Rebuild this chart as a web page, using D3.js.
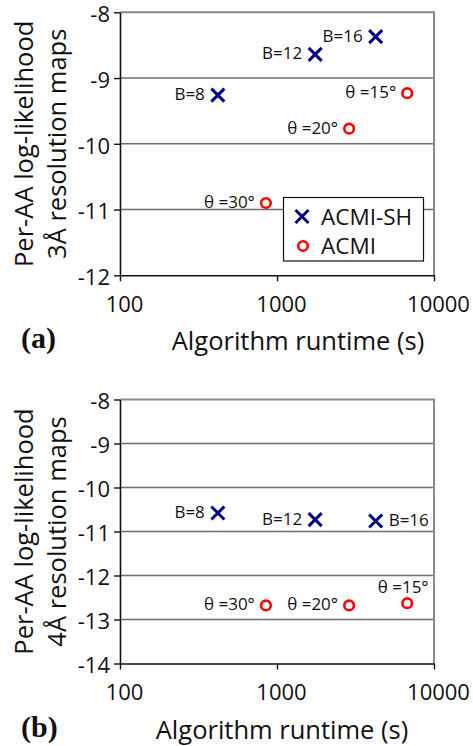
<!DOCTYPE html>
<html>
<head>
<meta charset="utf-8">
<script src="https://cdn.jsdelivr.net/npm/d3@7"></script>
<style>
  html, body { margin: 0; padding: 0; background: #fff; }
  svg { display: block; }
</style>
</head>
<body>
<svg id="chart" width="473" height="746"></svg>
<script>
// ---- data ----
const seriesNames = ["ACMI-SH", "ACMI"];
const runtimeSH = [420, 1750, 4250];
const runtimeACMI = [6750, 2880, 850];
const labelsSH = ["B=8", "B=12", "B=16"];
const labelsACMI = ["θ =15°", "θ =20°", "θ =30°"];
const ll3SH = [-9.26, -8.64, -8.37];
const ll3ACMI = [-9.23, -9.77, -10.90];
const ll4SH = [-10.58, -10.73, -10.76];
const ll4ACMI = [-12.63, -12.68, -12.68];
const xTicks = [100, 1000, 10000];
const yTicks3 = [-12, -11, -10, -9, -8];
const yTicks4 = [-14, -13, -12, -11, -10, -9, -8];
const yTitle3 = ["Per-AA log-likelihood", "3Å resolution maps"];
const yTitle4 = ["Per-AA log-likelihood", "4Å resolution maps"];
const xTitle = "Algorithm runtime (s)";
const panelLabels = ["(a)", "(b)"];

// label placement (style only)
const placeSH3 = ["left", "left", "left"];
const placeACMI3 = ["left", "left", "left"];
const placeSH4 = ["left", "left", "right"];
const placeACMI4 = ["above", "left", "left"];

const svg = d3.select("#chart");
const FONT = "'Open Sans', 'Noto Sans', sans-serif";
const NAVY = "#000080", RED = "#ff0000";

function drawPanel(cfg) {
  const x = d3.scaleLog().domain([100, 10000]).range([120, 434]);
  const y = d3.scaleLinear().domain(cfg.yDomain).range([cfg.yBottom, cfg.yTop]);
  const g = svg.append("g");

  // gridlines (interior)
  g.selectAll("line.grid").data(cfg.yTicks.slice(1, -1)).join("line")
    .attr("x1", x(100)).attr("x2", x(10000))
    .attr("y1", d => y(d)).attr("y2", d => y(d))
    .attr("stroke", "#6e6e6e").attr("stroke-width", 1.5);
  // top & right border
  g.append("line").attr("x1", x(100)).attr("x2", x(10000) + 1)
    .attr("y1", y(cfg.yDomain[1])).attr("y2", y(cfg.yDomain[1]))
    .attr("stroke", "#8a8a8a").attr("stroke-width", 2);
  g.append("line").attr("x1", x(10000)).attr("x2", x(10000))
    .attr("y1", y(cfg.yDomain[1])).attr("y2", y(cfg.yDomain[0]))
    .attr("stroke", "#8a8a8a").attr("stroke-width", 2);

  // axes
  const yAxis = d3.axisLeft(y).tickValues(cfg.yTicks).tickFormat(d => String(d))
    .tickSize(6).tickSizeOuter(0).tickPadding(4);
  const ya = g.append("g").attr("transform", `translate(${x(100)},0)`).call(yAxis);
  const xAxis = d3.axisBottom(x).tickValues(xTicks).tickFormat(d => String(d))
    .tickSize(6).tickSizeOuter(0).tickPadding(15);
  const xa = g.append("g").attr("transform", `translate(0,${y(cfg.yDomain[0])})`).call(xAxis);
  [ya, xa].forEach(a => {
    a.select(".domain").attr("stroke", "#111").attr("stroke-width", 1.6);
    a.selectAll(".tick line").attr("stroke", "#111").attr("stroke-width", 1.4);
    a.selectAll(".tick text").attr("fill", "#111")
      .style("font-family", FONT).style("font-size", "22px");
  });
  ya.selectAll(".tick text").attr("dy", "0.42em");
  xa.selectAll(".tick text").attr("dx", 4);

  // y title
  const ty = (cfg.yTop + cfg.yBottom) / 2;
  cfg.yTitle.forEach((t, i) => {
    g.append("text")
      .attr("transform", `translate(${[33, 66][i]},${ty}) rotate(-90)`)
      .attr("text-anchor", "middle")
      .style("font-family", FONT).style("font-size", "25.5px").attr("fill", "#111")
      .text(t);
  });
  // x title
  g.append("text").attr("x", cfg.xTitleX).attr("y", cfg.xTitleY)
    .attr("text-anchor", "middle")
    .style("font-family", FONT).style("font-size", "25.5px").attr("fill", "#111")
    .text(xTitle);
  // panel label
  g.append("text").attr("x", 21).attr("y", cfg.xTitleY - 2)
    .style("font-family", "'Liberation Serif', 'Times New Roman', serif")
    .style("font-weight", "bold").style("font-size", "30px").attr("fill", "#111")
    .text(cfg.panel);

  // markers
  const cross = (sel, s) => sel.attr("d", `M${-s},${-s}L${s},${s}M${-s},${s}L${s},${-s}`);
  const sh = runtimeSH.map((r, i) => ({ r, v: cfg.sh[i], label: labelsSH[i], place: cfg.placeSH[i] }));
  const ac = runtimeACMI.map((r, i) => ({ r, v: cfg.ac[i], label: labelsACMI[i], place: cfg.placeAC[i] }));

  g.selectAll("path.sh").data(sh).join("path")
    .attr("transform", d => `translate(${x(d.r)},${y(d.v)})`)
    .call(cross, 6.5)
    .attr("stroke", NAVY).attr("stroke-width", 3).attr("fill", "none");
  g.selectAll("circle.ac").data(ac).join("circle")
    .attr("cx", d => x(d.r)).attr("cy", d => y(d.v)).attr("r", 4.8)
    .attr("stroke", RED).attr("stroke-width", 2.6).attr("fill", "none");

  const lab = (data, gap) => g.selectAll(null).data(data).join("text")
    .style("font-family", FONT).style("font-size", "17px").attr("fill", "#111")
    .attr("text-anchor", d => d.place === "left" ? "end" : d.place === "right" ? "start" : "middle")
    .attr("x", d => d.place === "left" ? x(d.r) - gap : d.place === "right" ? x(d.r) + gap : x(d.r) - 4)
    .attr("y", d => d.place === "above" ? y(d.v) - 10 : y(d.v) + 5)
    .text(d => d.label);
  lab(sh, 13);
  lab(ac, 11);

  // legend
  if (cfg.legend) {
    const L = g.append("g");
    L.append("rect").attr("x", 283.5).attr("y", 197.5).attr("width", 140).attr("height", 63.5)
      .attr("fill", "#fff").attr("stroke", "#111").attr("stroke-width", 1.2);
    L.append("path").attr("transform", "translate(302,216.5)").call(cross, 6.5)
      .attr("stroke", NAVY).attr("stroke-width", 3).attr("fill", "none");
    L.append("circle").attr("cx", 303).attr("cy", 246).attr("r", 4.8)
      .attr("stroke", RED).attr("stroke-width", 2.6).attr("fill", "none");
    seriesNames.forEach((n, i) => {
      L.append("text").attr("x", 321).attr("y", [225, 254][i])
        .style("font-family", FONT).style("font-size", "22.5px").attr("fill", "#111")
        .text(n);
    });
  }
}

drawPanel({
  yDomain: [-12, -8], yTicks: yTicks3, yTop: 12.3, yBottom: 275.3,
  sh: ll3SH, ac: ll3ACMI, placeSH: placeSH3, placeAC: placeACMI3,
  yTitle: yTitle3, xTitleX: 298, xTitleY: 350, panel: panelLabels[0], legend: true
});
drawPanel({
  yDomain: [-14, -8], yTicks: yTicks4, yTop: 399.5, yBottom: 663.5,
  sh: ll4SH, ac: ll4ACMI, placeSH: placeSH4, placeAC: placeACMI4,
  yTitle: yTitle4, xTitleX: 282, xTitleY: 739, panel: panelLabels[1], legend: false
});
</script>
</body>
</html>
